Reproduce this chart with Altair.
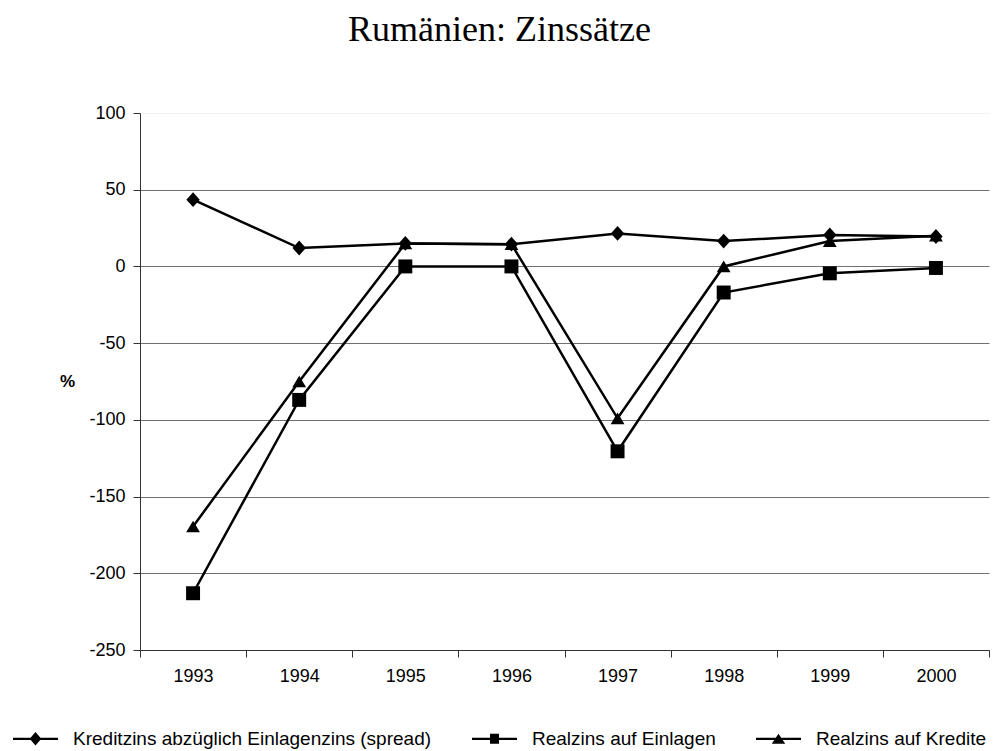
import altair as alt
import pandas as pd

years = ["1993", "1994", "1995", "1996", "1997", "1998", "1999", "2000"]
series_names = [
    "Kreditzins abzüglich Einlagenzins (spread)",
    "Realzins auf Einlagen",
    "Realzins auf Kredite",
]
spread = [43.5, 12.0, 15.0, 14.5, 21.5, 16.5, 20.5, 19.5]
einlagen = [-213.0, -87.0, 0.0, 0.0, -120.5, -17.0, -4.5, -1.0]
kredite = [-169.5, -75.0, 15.0, 14.5, -99.0, 0.0, 16.5, 20.0]
y_ticks = [-250, -200, -150, -100, -50, 0, 50, 100]

rows = []
for name, vals in zip(series_names, [spread, einlagen, kredite]):
    for yr, v in zip(years, vals):
        rows.append({"year": yr, "value": v, "series": name})
df = pd.DataFrame(rows)

diamond = "M0,-1.05L0.95,0L0,1.05L-0.95,0Z"
triangle = "M0,-0.85L1,0.85L-1,0.85Z"
bar = "M-1,-0.05H1V0.05H-1Z"
leg_diamond = bar + "M0,-0.3L0.26,0L0,0.3L-0.26,0Z"
leg_square = bar + "M-0.2,-0.22H0.2V0.22H-0.2Z"
leg_triangle = bar + "M0,-0.22L0.3,0.22L-0.3,0.22Z"

x_enc = alt.X(
    "year:O",
    sort=years,
    scale=alt.Scale(type="band", paddingInner=0, paddingOuter=0),
    axis=alt.Axis(
        title=None,
        labelAngle=0,
        tickBand="extent",
        tickSize=7,
        labelPadding=10,
        labelFontSize=18,
        labelFont="Liberation Sans",
        labelColor="#000",
        domainColor="#333",
        tickColor="#333",
        grid=False,
    ),
)
y_enc = alt.Y(
    "value:Q",
    scale=alt.Scale(domain=[-250, 100], nice=False, zero=False),
    axis=alt.Axis(
        title="%",
        titleAngle=0,
        titleFontWeight="bold",
        titleFontSize=17,
        titleFont="Liberation Sans",
        titleX=-73,
        titleY=268,
        titleAlign="center",
        titleBaseline="middle",
        values=y_ticks,
        labelExpr="toString(datum.value)",
        tickSize=7,
        labelPadding=8,
        labelFontSize=18,
        labelFont="Liberation Sans",
        labelColor="#000",
        domainColor="#333",
        tickColor="#333",
        grid=True,
        gridColor={"condition": {"test": "datum.value == 100", "value": "#f2f2f2"}, "value": "#707070"},
        gridWidth=1,
    ),
)

lines = alt.Chart(df).mark_line(color="black", strokeWidth=2.5).encode(
    x=x_enc, y=y_enc, detail="series:N"
)

points = alt.Chart(df).mark_point(filled=True, color="black", opacity=1, strokeWidth=0).encode(
    x=x_enc,
    y=y_enc,
    shape=alt.Shape(
        "series:N",
        scale=alt.Scale(domain=series_names, range=[diamond, "square", triangle]),
        legend=None,
    ),
    size=alt.Size(
        "series:N",
        scale=alt.Scale(domain=series_names, range=[200, 190, 196]),
        legend=None,
    ),
)

legend_layer = alt.Chart(df).mark_point(filled=True, color="black", opacity=0, strokeWidth=0).encode(
    x=x_enc,
    y=y_enc,
    shape=alt.Shape(
        "series:N",
        scale=alt.Scale(domain=series_names, range=[leg_diamond, leg_square, leg_triangle]),
        legend=alt.Legend(
            title=None,
            orient="none",
            direction="horizontal",
            legendX=-127,
            legendY=603,
            symbolSize=2025,
            symbolOpacity=1,
            symbolFillColor="black",
            symbolStrokeWidth=0,
            labelFontSize=19,
            labelFont="Liberation Sans",
            labelColor="#000",
            labelOffset=15,
            labelLimit=0,
            columnPadding=40,
            padding=0,
        ),
    ),
)

chart = (
    alt.layer(legend_layer, lines, points)
    .resolve_scale(shape="independent", size="independent")
    .properties(
        width=849,
        height=537,
        autosize=alt.AutoSizeParams(type="none"),
        padding={"left": 132, "top": 105, "right": 2, "bottom": 101},
        title=alt.TitleParams(
            "Rumänien: Zinssätze",
            font="Liberation Serif",
            fontSize=36,
            fontWeight="normal",
            color="#000",
            anchor="middle",
            offset=55,
            dx=-65,
        ),
    )
    .configure_view(stroke=None)
)

chart.save("out.html", embed_options={"renderer": "svg", "actions": False})
